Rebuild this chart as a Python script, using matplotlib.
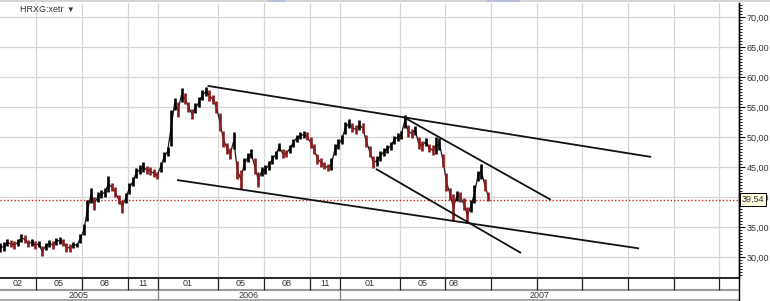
import pandas as pd
import numpy as np
import matplotlib
matplotlib.use("Agg")
import matplotlib.pyplot as plt
import matplotlib.dates as mdates
from matplotlib.ticker import MultipleLocator, FuncFormatter
from matplotlib.patches import Rectangle

plt.rcParams["font.family"] = ["Liberation Sans", "DejaVu Sans"]

# ---- dane (tygodniowe zakresy) ----
symbol = "HRXG:xetr"
start = "2005-02-18"
wk_low = [30.8, 31.0, 31.8, 31.6, 31.4, 31.8, 32.5, 32.4, 31.6, 31.9,
          31.4, 31.6, 30.2, 31.1, 31.7, 31.4, 32.0, 32.2, 31.9, 30.8,
          30.9, 31.5, 31.6, 32.3, 33.6, 36.0, 39.0, 37.8, 39.2, 39.8,
          40.0, 40.8, 41.0, 40.0, 38.8, 37.4, 39.0, 40.5, 41.8, 43.2,
          43.8, 44.2, 43.8, 43.6, 43.4, 43.0, 44.2, 45.8, 46.8, 48.5,
          54.5, 53.3, 55.8, 55.5, 54.2, 53.0, 54.0, 55.0, 56.2, 56.8,
          56.0, 55.5, 54.0, 51.0, 48.3, 47.2, 46.3, 48.0, 43.0, 41.4,
          44.5, 45.8, 46.5, 43.8, 41.6, 43.5, 43.8, 44.5, 45.5, 46.3,
          47.6, 46.5, 46.6, 47.4, 48.3, 49.2, 49.6, 49.8, 49.5, 48.2,
          47.2, 45.5, 45.0, 44.6, 44.3, 44.5, 47.0, 48.0, 48.8, 50.5,
          51.5, 50.8, 50.5, 51.2, 50.6, 48.3, 46.6, 44.8, 45.2, 46.0,
          46.8, 47.3, 47.8, 48.8, 49.4, 49.6, 51.5, 50.0, 49.8, 50.4,
          48.0, 47.6, 48.5, 47.5, 47.0, 47.2, 47.8, 45.0, 41.0, 39.5,
          36.0, 39.4, 39.2, 37.8, 35.6, 37.5, 39.0, 42.6, 43.0, 41.0,
          39.3]
wk_high = [32.3, 32.5, 33.0, 32.8, 32.6, 33.0, 33.8, 33.6, 32.9, 33.0,
           32.6, 32.7, 31.8, 32.4, 32.9, 32.6, 33.2, 33.3, 33.0, 32.4,
           32.1, 32.5, 32.4, 33.8, 35.5, 39.5, 41.5, 40.0, 40.8, 41.2,
           41.5, 43.5, 42.3, 41.6, 40.3, 39.5, 40.6, 42.3, 43.3, 44.8,
           45.3, 45.8, 45.2, 45.0, 44.6, 44.2, 45.8, 47.5, 48.4, 54.5,
           56.5, 55.8, 58.2, 57.3, 55.8, 54.6, 55.6, 56.6, 57.8, 58.3,
           57.8, 57.0, 56.0, 54.0, 51.0, 49.0, 48.2, 50.8, 46.0, 44.5,
           46.5, 47.3, 48.0, 46.5, 44.2, 45.0, 45.4, 46.0, 47.0, 47.7,
           49.0, 48.0, 47.8, 48.6, 49.7, 50.4, 50.8, 51.0, 50.8, 50.0,
           48.8, 47.2, 46.5, 45.8, 45.5, 46.5, 48.8, 49.6, 50.4, 52.5,
           53.0, 52.3, 52.0, 52.8, 52.3, 50.3, 48.5, 46.8, 46.8, 47.6,
           48.2, 48.7, 49.2, 50.2, 50.6, 51.0, 53.7, 52.0, 51.4, 51.9,
           50.0, 49.4, 49.9, 48.9, 48.6, 50.0, 49.8, 47.2, 44.0, 41.5,
           40.5, 41.0, 40.8, 39.8, 38.3, 39.5, 42.0, 44.3, 45.5, 43.0,
           40.8]
last_price = 39.54

# linie trendu: (data_od, cena_od, data_do, cena_do)
trend_lines = [
    ("2006-04-12", 58.5, "2008-09-15", 46.7),
    ("2007-05-10", 53.25, "2008-02-27", 39.6),
    ("2006-02-10", 42.8, "2008-08-22", 31.45),
    ("2007-03-16", 44.6, "2007-12-29", 30.75),
]

grid_months = ["2005-05-01", "2005-08-01", "2005-11-01", "2006-01-01",
               "2006-05-01", "2006-08-01", "2006-11-01", "2007-01-01",
               "2007-05-01", "2007-08-01", "2007-11-01", "2008-02-01",
               "2008-05-01", "2008-08-01", "2008-11-01", "2009-02-01"]
month_labels = ["02", "05", "08", "11", "01", "05", "08", "11", "01", "05", "08"]
year_breaks = ["2006-01-01", "2007-01-01"]
year_labels = ["2005", "2006", "2007"]

# ---- rysunek ----
W, H = 770, 301
FS = 6.5
TXT = "#333333"
fig = plt.figure(figsize=(W / 100, H / 100), dpi=100)
ax = fig.add_axes([0, (H - 277.5) / H, 739 / W, (277.5 - 3) / H])

dates = pd.date_range(start, periods=len(wk_low), freq="7D")
x = mdates.date2num(dates)
x0 = mdates.date2num(pd.Timestamp(start)) - 0.5
x1 = x0 + 739 * 2.008

mid = (np.array(wk_low) + np.array(wk_high)) / 2
colors = ["black"] + ["#8b1a1a" if mid[i] < mid[i - 1] else "black" for i in range(1, len(mid))]
ax.plot(x, mid, color="#1a1a1a", linewidth=0.9, zorder=3)
ax.vlines(x, wk_low, wk_high, colors=colors, linewidth=1.9, zorder=3)

for d0, p0, d1, p1 in trend_lines:
    ax.plot(mdates.date2num([pd.Timestamp(d0), pd.Timestamp(d1)]), [p0, p1],
            color="#111111", linewidth=1.3, zorder=4)

ax.axhline(last_price, color="#d02020", linestyle=(0, (1, 1.5)), linewidth=1.0, zorder=2)

ax.set_xlim(x0, x1)
ax.set_ylim(26.58, 72.33)

for g in grid_months:
    ax.axvline(mdates.date2num(pd.Timestamp(g)), color="#d6d6d6", linewidth=0.9, zorder=0)
for v in range(30, 75, 5):
    ax.axhline(v, color="#d6d6d6", linewidth=0.9, zorder=0)

ax.yaxis.tick_right()
ax.yaxis.set_major_locator(MultipleLocator(5))
ax.yaxis.set_minor_locator(MultipleLocator(0.5))
ax.yaxis.set_major_formatter(FuncFormatter(lambda v, p: f"{v:.2f}".replace(".", ",")))
ax.tick_params(axis="y", which="major", direction="out", length=4, width=0.8,
               labelsize=FS, labelcolor=TXT, pad=1.5)
ax.tick_params(axis="y", which="minor", direction="out", length=2, width=0.6)
ax.set_xticks([])
for s in ["left", "top"]:
    ax.spines[s].set_visible(False)
ax.spines["right"].set_linewidth(1.0)
ax.spines["bottom"].set_linewidth(1.2)

ax.text(1.0 + 3 / 739, last_price, f"{last_price:.2f}".replace(".", ","),
        transform=ax.get_yaxis_transform(), va="center", ha="left",
        fontsize=FS, color=TXT, zorder=10,
        bbox=dict(boxstyle="square,pad=0.2", facecolor="#ffffe0", edgecolor="black", linewidth=0.7))

# naglowek
fig.text(20 / W, 1 - 9 / H, symbol + "  \u25be", fontsize=FS, color=TXT, va="center", ha="left")
fig.patches.append(Rectangle((0, 1 - 2 / H), 1, 2 / H, transform=fig.transFigure,
                             facecolor="#d4d4d4", edgecolor="none"))
for bx0, bx1 in [(268, 285), (487, 520)]:
    fig.patches.append(Rectangle((bx0 / W, 1 - 2 / H), (bx1 - bx0) / W, 2 / H,
                                 transform=fig.transFigure, facecolor="#b8bfd8", edgecolor="none"))

# dolna os czasu (miesiace / lata)
bx = fig.add_axes([0, 0, 739 / W, 23.5 / H])
bx.set_xlim(x0, x1)
bx.set_ylim(0, 23.5)
bx.axis("off")
bx.axhline(11.5, color="#9a9a9a", linewidth=1.5)
bx.axhline(0.8, color="#9a9a9a", linewidth=1.2)
gx = [mdates.date2num(pd.Timestamp(g)) for g in grid_months]
for g in gx:
    bx.vlines(g, 11.5, 23.5, color="#222222", linewidth=0.9)
edges = [x0] + gx + [x1]
for i, lab in enumerate(month_labels):
    if i == len(month_labels) - 1:
        bx.text(edges[i] + 6, 17.3, lab, ha="left", va="center", fontsize=FS, color=TXT)
    else:
        bx.text((edges[i] + edges[i + 1]) / 2, 17.3, lab, ha="center", va="center",
                fontsize=FS, color=TXT)
yx = [mdates.date2num(pd.Timestamp(y)) for y in year_breaks]
for y in yx:
    bx.vlines(y, 0.8, 11.5, color="#8a8a8a", linewidth=1.0)
yedges = [x0] + yx + [x1]
for i, lab in enumerate(year_labels):
    bx.text((yedges[i] + yedges[i + 1]) / 2, 6.0, lab, ha="center", va="center",
            fontsize=FS, color=TXT)

fig.add_artist(plt.Line2D([739 / W, 739 / W], [0, 1 - 3 / H], transform=fig.transFigure,
                          color="black", linewidth=1.0))

fig.savefig("out.png", dpi=100, facecolor="white")
